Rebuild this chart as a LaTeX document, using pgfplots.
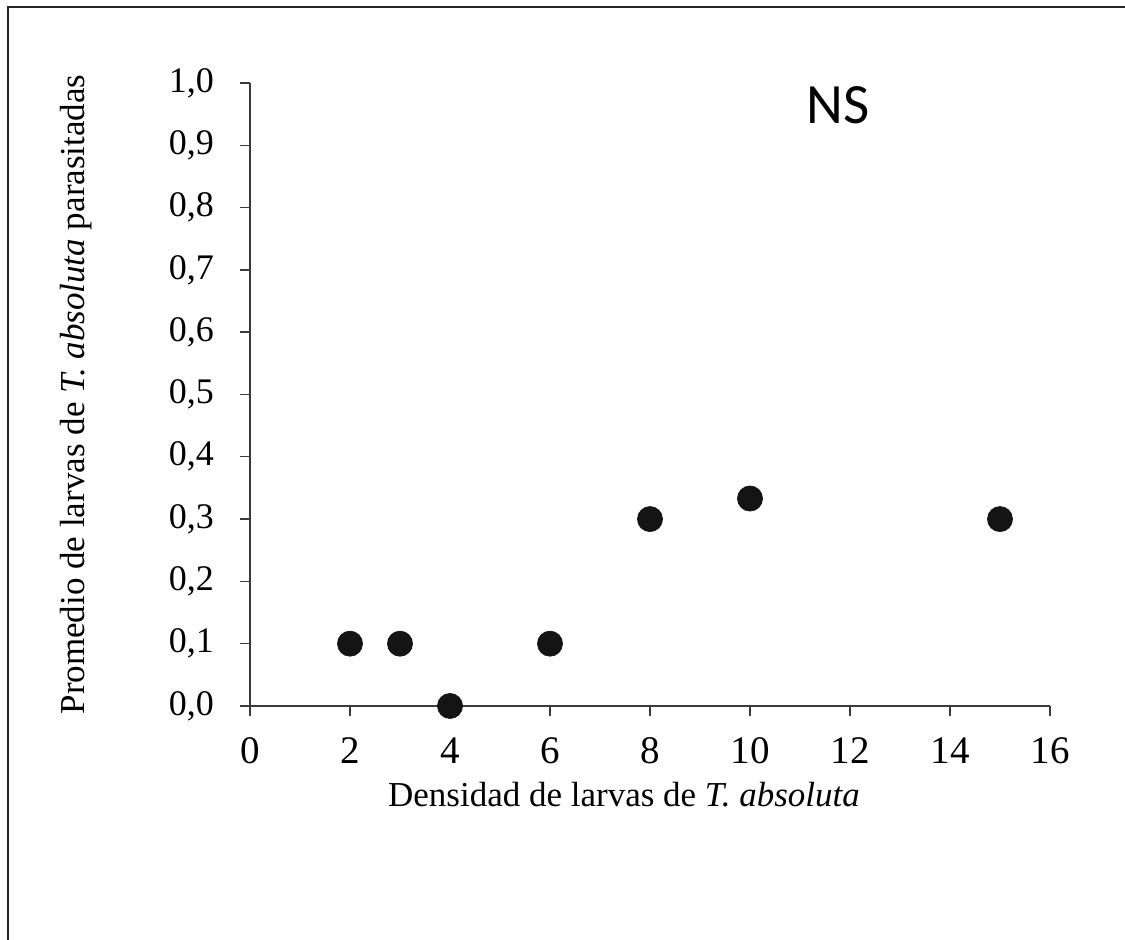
\documentclass[border=0pt]{standalone}
\usepackage{fontspec}
\setmainfont{Liberation Serif}
\newfontfamily\nsfont{Carlito}
\usepackage{pgfplots}
\pgfplotsset{compat=1.18}

\definecolor{dotc}{HTML}{141414}
\definecolor{axc}{HTML}{3A3A3A}

\begin{document}
\begin{tikzpicture}[x=1pt,y=1pt]
    % page = 1125x940 px, 1 px = 0.5 pt
    \path[use as bounding box] (0,0) rectangle (562.5,470);
    \draw[line width=1pt, black!85] (3.75,0) -- (3.75,466.5) -- (562.5,466.5);
    \begin{axis}[
            ,at             = {(125pt,117pt)}
            ,anchor         = south west
            ,scale only axis
            ,width          = 400pt
            ,height         = 311.5pt
            ,xmin = 0, xmax = 16
            ,ymin = 0, ymax = 1
            ,axis x line*   = bottom
            ,axis y line*   = left
            ,axis line style= {axc, line width=0.7pt}
            ,tick style     = {axc, line width=0.7pt}
            ,tick align     = outside
            ,major tick length = 5pt
            ,xtick          = {0,2,...,16}
            ,ytick          = {0,0.1,...,1.0}
            ,minor tick num = 0
            ,/pgf/number format/assume math mode=true
            ,yticklabel style = {font=\fontsize{18}{20}\selectfont, /pgf/number format/.cd, use comma, fixed, fixed zerofill, precision=1, /tikz/.cd, xshift=-9.5pt}
            ,xticklabel style = {font=\fontsize{19.5}{22}\selectfont}
            ,xticklabel shift = 7.5pt
            ,xlabel         = {Densidad de larvas de \textit{T. absoluta}}
            ,ylabel         = {Promedio de larvas de \textit{T. absoluta} parasitadas}
            ,xlabel style   = {at={(axis description cs:0.4675,-0.1429)}, anchor=center, font=\fontsize{17.5}{20}\selectfont}
            ,ylabel style   = {at={(axis description cs:-0.2175,0.5)}, anchor=center, rotate=0, font=\fontsize{17.5}{20}\selectfont}
            ,clip           = false
            ]
        \addplot [only marks, mark=*, mark size=6.25pt, color=dotc]
            coordinates {(2,0.1) (3,0.1) (4,0.0) (6,0.1) (8,0.3) (10,0.333) (15,0.3)};
        \node [font=\nsfont\fontsize{28.5}{32}\selectfont] at (axis description cs:0.735,0.965) {NS};
    \end{axis}
\end{tikzpicture}
\end{document}
